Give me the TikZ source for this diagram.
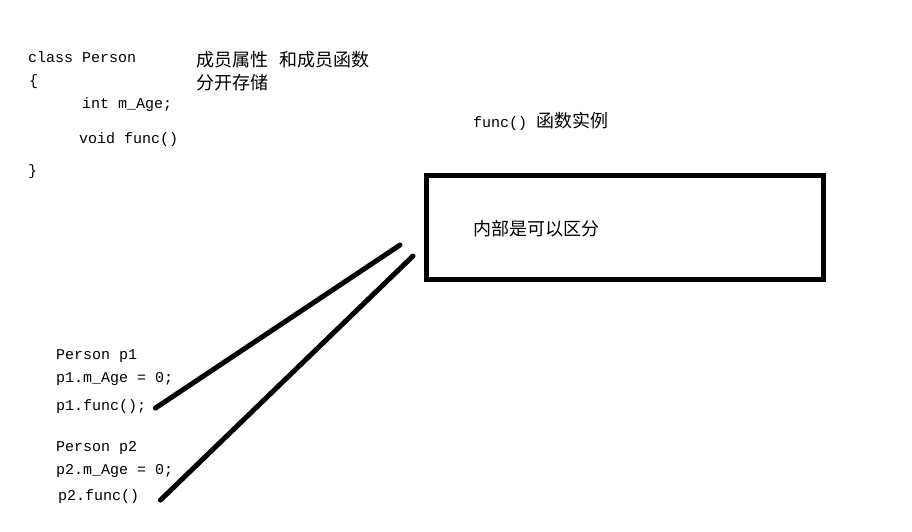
\documentclass[tikz,border=0pt]{standalone}
\usepackage{fontspec}
\setmonofont{Liberation Mono}
\newfontfamily\cjk{Noto Sans CJK SC}
\tikzset{>=latex}

\begin{document}
\begin{tikzpicture}[x=1pt,y=-1pt]
    \tikzstyle{code}=[anchor=base west,inner sep=0pt,font=\fontsize{15}{17}\ttfamily];
    \tikzstyle{note}=[anchor=base west,inner sep=0pt,font=\fontsize{18}{20}\cjk];
    \tikzstyle{link}=[line width=5pt,line cap=round];
    \useasboundingbox (0,0) rectangle (912,532);
    % class definition
    \node[code] (cls) at (28,63) {class Person};
    \node[code] (open) at (29,86) {\{};
    \node[code] (age) at (82,109) {int m\_Age;};
    \node[code] (fn) at (79,143) {void func()};
    \node[code] (close) at (28,175) {\}};
    \node[note] (sep1) at (196,67) {成员属性\hspace{0.6em}和成员函数};
    \node[note] (sep2) at (196,90) {分开存储};
    % function instance
    \node[anchor=base west,inner sep=0pt] (title) at (473,128)
        {\fontsize{15}{17}\ttfamily func() \cjk\fontsize{18}{20}\selectfont 函数实例};
    \node[draw,line width=5pt,minimum width=397pt,minimum height=104pt] (inst) at (625,227.5) {};
    \node[note] (diff) at (473,235) {内部是可以区分};
    % objects
    \node[code] (p1) at (56,359) {Person p1};
    \node[code] (p1age) at (56,382) {p1.m\_Age = 0;};
    \node[code] (p1call) at (56,410) {p1.func();};
    \node[code] (p2) at (56,451) {Person p2};
    \node[code] (p2age) at (56,474) {p2.m\_Age = 0;};
    \node[code] (p2call) at (58,500) {p2.func()};
    \coordinate (a1) at (400,245);
    \coordinate (a2) at (413,256);
    \draw[link] ([xshift=9pt,yshift=-2pt]p1call.east) -- (a1);
    \draw[link] ([xshift=21pt,yshift=-4pt]p2call.east) -- (a2);
\end{tikzpicture}
\end{document}
